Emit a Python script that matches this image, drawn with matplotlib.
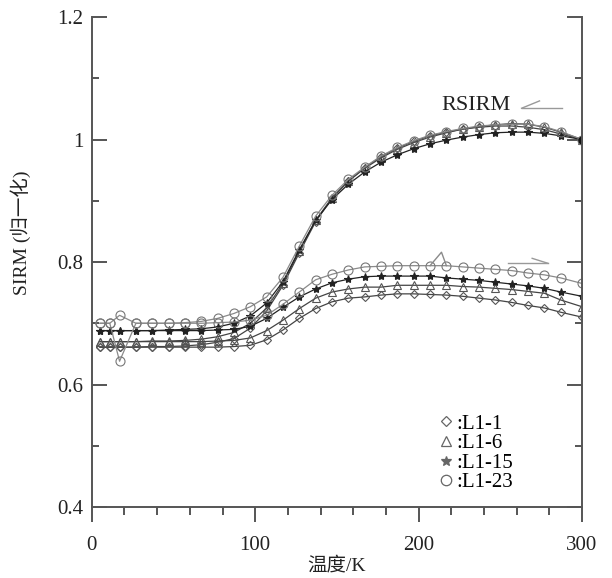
import matplotlib
matplotlib.use('Agg')
import matplotlib.pyplot as plt
from matplotlib.lines import Line2D

plt.rcParams['font.family'] = ['Liberation Serif', 'Noto Sans CJK SC']

# temperature grid (K)
temp = [5, 11, 17, 27, 37, 47, 57, 67, 77, 87, 97, 107, 117, 127, 137, 147,
        157, 167, 177, 187, 197, 207, 217, 227, 237, 247, 257, 267, 277, 287, 300]

# RSIRM cooling curves (300 K -> 5 K), normalised SIRM
cool_l1_1 = [0.661, 0.661, 0.661, 0.661, 0.662, 0.662, 0.663, 0.665, 0.669, 0.675, 0.692,
             0.720, 0.762, 0.815, 0.866, 0.904, 0.932, 0.954, 0.972, 0.986, 0.997, 1.006,
             1.012, 1.017, 1.020, 1.022, 1.022, 1.020, 1.016, 1.009, 1.000]
cool_l1_6 = [0.670, 0.670, 0.670, 0.670, 0.671, 0.671, 0.672, 0.674, 0.678, 0.685, 0.700,
             0.725, 0.765, 0.818, 0.868, 0.905, 0.932, 0.953, 0.970, 0.984, 0.995, 1.004,
             1.011, 1.017, 1.021, 1.024, 1.026, 1.025, 1.020, 1.012, 1.000]
cool_l1_15 = [0.688, 0.688, 0.688, 0.688, 0.688, 0.689, 0.690, 0.691, 0.694, 0.700, 0.712,
              0.733, 0.768, 0.820, 0.868, 0.902, 0.927, 0.947, 0.963, 0.975, 0.985, 0.993,
              0.999, 1.004, 1.008, 1.011, 1.012, 1.012, 1.010, 1.006, 1.000]
cool_l1_23 = [0.700, 0.700, 0.638, 0.700, 0.700, 0.700, 0.701, 0.703, 0.708, 0.716, 0.727,
              0.743, 0.775, 0.826, 0.875, 0.909, 0.935, 0.955, 0.973, 0.987, 0.998, 1.007,
              1.013, 1.018, 1.022, 1.024, 1.025, 1.025, 1.021, 1.013, 1.000]

# warming curves (5 K -> 300 K)
warm_l1_1 = [0.661, 0.661, 0.661, 0.661, 0.661, 0.661, 0.661, 0.661, 0.661, 0.662, 0.664,
             0.673, 0.689, 0.708, 0.724, 0.735, 0.741, 0.743, 0.746, 0.748, 0.748, 0.747,
             0.746, 0.744, 0.741, 0.738, 0.734, 0.729, 0.725, 0.718, 0.710]
warm_l1_6 = [0.670, 0.670, 0.670, 0.670, 0.670, 0.670, 0.670, 0.670, 0.671, 0.672, 0.676,
             0.688, 0.705, 0.724, 0.741, 0.751, 0.756, 0.759, 0.759, 0.762, 0.762, 0.762,
             0.762, 0.760, 0.759, 0.757, 0.755, 0.752, 0.749, 0.738, 0.727]
warm_l1_15 = [0.688, 0.688, 0.688, 0.688, 0.688, 0.688, 0.688, 0.688, 0.689, 0.690, 0.695,
              0.708, 0.726, 0.743, 0.756, 0.766, 0.772, 0.776, 0.777, 0.777, 0.777, 0.777,
              0.774, 0.772, 0.770, 0.767, 0.764, 0.761, 0.757, 0.751, 0.744]
warm_l1_23 = [0.700, 0.700, 0.713, 0.700, 0.700, 0.700, 0.700, 0.700, 0.701, 0.702, 0.705,
              0.713, 0.731, 0.751, 0.771, 0.780, 0.787, 0.792, 0.793, 0.794, 0.794, 0.794,
              0.794, 0.792, 0.790, 0.788, 0.786, 0.782, 0.779, 0.774, 0.765]

# glitch on the L1-23 warming curve
glitch_t = [207, 214, 217]
glitch_v = [0.794, 0.816, 0.794]

samples = [':L1-1', ':L1-6', ':L1-15', ':L1-23']
cool_curves = [cool_l1_1, cool_l1_6, cool_l1_15, cool_l1_23]
warm_curves = [warm_l1_1, warm_l1_6, warm_l1_15, warm_l1_23]
markers = ['D', '^', '*', 'o']
msizes = [4, 5.5, 6, 6.5]
line_colors = ['#444444', '#444444', '#222222', '#8a8a8a']
mk_colors = ['#555555', '#555555', '#222222', '#777777']
mk_faces = ['none', 'none', '#222222', 'none']

fig = plt.figure(figsize=(6.12, 5.78), dpi=100)
ax = fig.add_axes([0.150, 0.1228, 0.801, 0.8478])

for i in range(4):
    for curve in (cool_curves[i], warm_curves[i]):
        ax.plot(temp, curve, color=line_colors[i], lw=0.9, marker=markers[i],
                ms=msizes[i], mec=mk_colors[i], mfc=mk_faces[i], mew=0.8)
ax.plot(glitch_t, glitch_v, color='#8a8a8a', lw=1.0)
ax.plot([300], [1.0], 'o', color='#111111', ms=5)

# RSIRM label and direction arrows
ax.text(235, 1.056, 'RSIRM', fontsize=16, ha='center', va='center', color='#222222')
ax.plot([263, 288], [1.051, 1.051], color='#999999', lw=1.0)
ax.plot([263, 274], [1.051, 1.063], color='#999999', lw=1.0)
ax.plot([255, 279], [0.798, 0.798], color='#999999', lw=1.0)
ax.plot([279, 269.5], [0.798, 0.806], color='#999999', lw=1.0)

ax.set_xlim(0, 300)
ax.set_ylim(0.4, 1.2)
ax.set_xticks([0, 100, 200, 300])
ax.set_xticks(range(0, 301, 20), minor=True)
ax.set_yticks([0.4, 0.6, 0.8, 1.0, 1.2])
ax.set_yticklabels(['0.4', '0.6', '0.8', '1', '1.2'])
ax.set_yticks([0.5, 0.7, 0.9, 1.1], minor=True)

ax.spines['top'].set_visible(False)
for s in ['left', 'bottom', 'right']:
    ax.spines[s].set_color('#555555')
    ax.spines[s].set_linewidth(1.4)

ax.tick_params(axis='y', which='both', direction='in', left=True, right=True,
               colors='#555555', labelcolor='#222222', width=1.4, labelsize=15, pad=6)
ax.tick_params(axis='y', which='major', length=11)
ax.tick_params(axis='y', which='minor', length=5)
ax.tick_params(axis='x', which='both', direction='out', top=False,
               colors='#555555', labelcolor='#222222', width=1.4, labelsize=15, pad=10)
ax.tick_params(axis='x', which='major', length=11)
ax.tick_params(axis='x', which='minor', length=5.5)

ax.set_xlabel('温度/K', fontsize=14, color='#222222', labelpad=1)
ax.set_ylabel('SIRM (归一化)', fontsize=14, color='#222222')
ax.yaxis.set_label_coords(-0.125, 0.56)

handles = [Line2D([], [], ls='none', marker=markers[i], ms=msizes[i] + 1,
                  mec='#666666', mfc='none' if i != 2 else '#666666', mew=0.9)
           for i in range(4)]
ax.legend(handles, samples, loc='lower left', bbox_to_anchor=(0.675, 0.0),
          frameon=False, fontsize=15, handlelength=0.8, handletextpad=0.1,
          labelspacing=0.0, borderpad=0.2)

plt.savefig('out.png', dpi=100)
plt.close()
